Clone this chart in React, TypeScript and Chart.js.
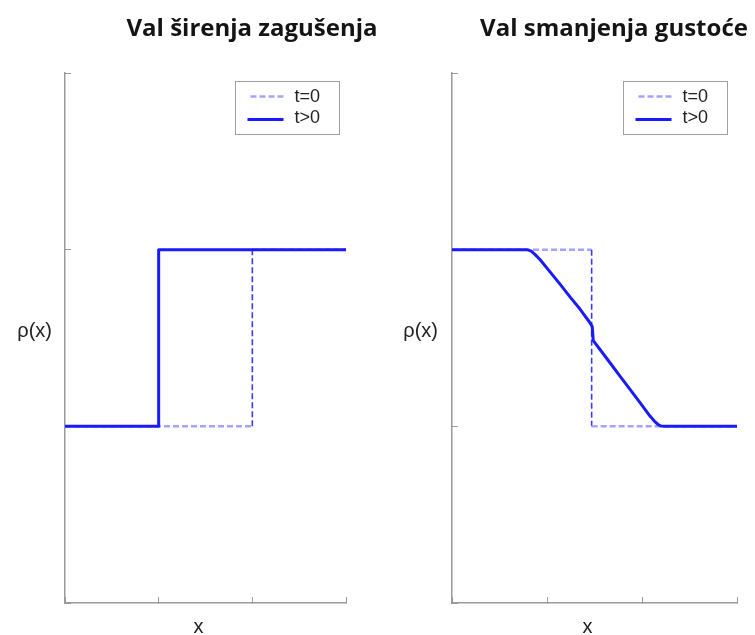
import React, { useEffect, useRef } from "react";
import { Chart, registerables } from "chart.js";

Chart.register(...registerables);

// ---- data ----
const axisTicks = [0, 1, 2, 3];
const seriesLabels = ["t=0", "t>0"];
const panelTitles = ["Val širenja zagušenja", "Val smanjenja gustoće"];
const yAxisLabel = "ρ(x)";
const xAxisLabel = "x";

// left panel (Val širenja zagušenja)
const leftInitialX = [0, 2, 2, 3];
const leftInitialY = [1, 1, 2, 2];
const leftLaterX = [0, 1, 1, 3];
const leftLaterY = [1, 1, 2, 2];

// right panel (Val smanjenja gustoće)
const rightInitialX = [0, 1.47, 1.47, 3];
const rightInitialY = [2, 2, 1, 1];
const rightLaterX = [0, 0.786, 0.83, 0.87, 0.926, 1.032, 1.137, 1.242, 1.347, 1.445, 1.476, 1.487, 1.558, 1.663, 1.768, 1.874, 1.979, 2.084, 2.13, 2.17, 2.2, 2.24, 3];
const rightLaterY = [2, 2, 1.993, 1.975, 1.944, 1.874, 1.805, 1.733, 1.664, 1.592, 1.565, 1.485, 1.435, 1.36, 1.284, 1.209, 1.134, 1.058, 1.03, 1.01, 1.002, 1.0, 1];

const toPoints = (xs: number[], ys: number[]) => xs.map((x, i) => ({ x, y: ys[i] }));

const SOLID = "#1a1aff";
const DASH_LIGHT = "#a4a4ff";
const DASH_DARK = "#3a3aff";
const AXIS = "#9a9a9a";

const textPlugin = {
  id: "panelText",
  afterDraw(chart: any, _args: any, opts: any) {
    const { ctx, chartArea } = chart;
    ctx.save();
    // title
    ctx.fillStyle = "#141414";
    ctx.font = "bold 24px 'Open Sans'";
    ctx.textAlign = "center";
    ctx.textBaseline = "alphabetic";
    ctx.fillText(opts.title, opts.titleX, 36);
    // y label
    ctx.fillStyle = "#222";
    ctx.font = "20px 'Liberation Sans'";
    ctx.textAlign = "right";
    ctx.textBaseline = "middle";
    ctx.fillText(yAxisLabel, chartArea.left - opts.yLabelGap, 331);
    // x label
    ctx.textAlign = "center";
    ctx.fillText(xAxisLabel, (chartArea.left + chartArea.right) / 2 - 7, 627);
    // legend
    const w = 104, h = 53;
    const bx = Math.round(chartArea.right - opts.legendInset - w) + 0.5;
    const by = chartArea.top + 8.5;
    ctx.fillStyle = "#fff";
    ctx.fillRect(bx, by, w, h);
    ctx.strokeStyle = "#a0a0a0";
    ctx.lineWidth = 1;
    ctx.strokeRect(bx, by, w, h);
    const ds = chart.data.datasets;
    // t=0 sample (dashed)
    ctx.beginPath();
    ctx.setLineDash([6, 3]);
    ctx.strokeStyle = DASH_LIGHT;
    ctx.lineWidth = 2.5;
    ctx.moveTo(bx + 15, by + 15);
    ctx.lineTo(bx + 48, by + 15);
    ctx.stroke();
    ctx.setLineDash([]);
    // t>0 sample (solid)
    ctx.beginPath();
    ctx.strokeStyle = SOLID;
    ctx.lineWidth = 3;
    ctx.moveTo(bx + 12, by + 38);
    ctx.lineTo(bx + 48, by + 38);
    ctx.stroke();
    ctx.fillStyle = "#222";
    ctx.font = "18px 'Liberation Sans'";
    ctx.textAlign = "left";
    ctx.textBaseline = "middle";
    const dashedDs = ds.find((d: any) => d.isInitial);
    const solidDs = ds.find((d: any) => !d.isInitial);
    ctx.fillText(dashedDs.label, bx + 59, by + 16);
    ctx.fillText(solidDs.label, bx + 59, by + 37);
    ctx.restore();
  },
};

function Panel(props: {
  width: number;
  left: number;
  padLeft: number;
  padRight: number;
  initial: { x: number; y: number }[];
  later: { x: number; y: number }[];
  title: string;
  titleX: number;
  yLabelGap: number;
  legendInset: number;
}) {
  const ref = useRef<HTMLCanvasElement>(null);
  useEffect(() => {
    if (!ref.current) return;
    const isVertical = (c: any) => c.p0.parsed.x === c.p1.parsed.x;
    const chart = new Chart(ref.current, {
      type: "line",
      data: {
        datasets: [
          {
            label: seriesLabels[1],
            data: props.later,
            borderColor: SOLID,
            borderWidth: 3,
            borderJoinStyle: "round",
            pointRadius: 0,
            fill: false,
            order: 0,
            tension: 0,
          } as any,
          {
            label: seriesLabels[0],
            isInitial: true,
            data: props.initial,
            borderColor: DASH_LIGHT,
            borderWidth: 2.5,
            borderDash: [6, 3],
            pointRadius: 0,
            fill: false,
            order: 1,
            tension: 0,
            segment: {
              borderColor: (c: any) => (isVertical(c) ? DASH_DARK : DASH_LIGHT),
              borderWidth: (c: any) => (isVertical(c) ? 1.6 : 2.5),
            },
          } as any,
        ],
      },
      options: {
        responsive: false,
        animation: false,
        layout: { padding: { left: props.padLeft, right: props.padRight, top: 73, bottom: 32 } },
        plugins: {
          legend: { display: false },
          title: { display: false },
          tooltip: { enabled: false },
          panelText: {
            title: props.title,
            titleX: props.titleX,
            yLabelGap: props.yLabelGap,
            legendInset: props.legendInset,
          },
        } as any,
        scales: {
          x: {
            type: "linear",
            min: axisTicks[0],
            max: axisTicks[axisTicks.length - 1],
            afterBuildTicks: (s: any) => {
              s.ticks = axisTicks.map((v) => ({ value: v }));
            },
            afterFit: (s: any) => {
              s.height = 0;
            },
            ticks: { display: false },
            grid: { display: true, drawOnChartArea: false, drawTicks: true, tickLength: -6, color: AXIS, lineWidth: 1 },
            border: { display: true, color: AXIS, width: 1.5 },
          },
          y: {
            type: "linear",
            min: axisTicks[0],
            max: axisTicks[axisTicks.length - 1],
            afterBuildTicks: (s: any) => {
              s.ticks = axisTicks.map((v) => ({ value: v }));
            },
            afterFit: (s: any) => {
              s.width = 0;
            },
            ticks: { display: false },
            grid: { display: true, drawOnChartArea: false, drawTicks: true, tickLength: -6, color: AXIS, lineWidth: 1 },
            border: { display: true, color: AXIS, width: 1.5 },
          },
        },
      },
      plugins: [textPlugin],
    });
    return () => chart.destroy();
  }, []);
  return (
    <canvas
      ref={ref}
      width={props.width}
      height={635}
      style={{ position: "absolute", left: props.left, top: 0, width: props.width, height: 635 }}
    />
  );
}

export default function App() {
  return (
    <div style={{ position: "absolute", left: 0, top: 0, width: 755, height: 635, background: "#fff" }}>
      <Panel
        width={383}
        left={0}
        padLeft={65}
        padRight={37}
        initial={toPoints(leftInitialX, leftInitialY)}
        later={toPoints(leftLaterX, leftLaterY)}
        title={panelTitles[0]}
        titleX={252}
        yLabelGap={13}
        legendInset={7}
      />
      <Panel
        width={372}
        left={383}
        padLeft={69}
        padRight={18}
        initial={toPoints(rightInitialX, rightInitialY)}
        later={toPoints(rightLaterX, rightLaterY)}
        title={panelTitles[1]}
        titleX={231}
        yLabelGap={14}
        legendInset={10}
      />
    </div>
  );
}
